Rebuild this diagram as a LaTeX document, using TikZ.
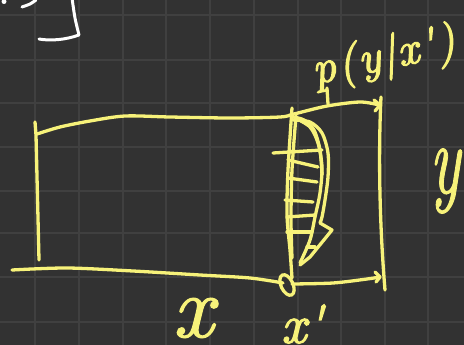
\documentclass[tikz,border=0pt]{standalone}
\usepackage{fontspec}
\newfontfamily\hand{lmroman10-italic.otf}[FakeBold=2.5]
\newfontfamily\handthin{lmroman10-italic.otf}[FakeBold=1.3]
\newfontfamily\handsp{lmroman10-italic.otf}[FakeBold=2.6,LetterSpace=5]
\begin{document}
\begin{tikzpicture}[x=1pt,y=-1pt]
\definecolor{bgc}{RGB}{50,50,50}
\definecolor{gridc}{RGB}{64,64,64}
\definecolor{yel}{RGB}{247,242,122}
\tikzset{
  ink/.style={draw=yel,line width=3.3pt,line cap=round,line join=round},
  chalk/.style={draw=white,line width=3pt,line cap=round,line join=round},
  gridline/.style={draw=gridc,line width=2pt},
  lbl/.style={text=yel,inner sep=0pt,font=\hand}
}
\fill[bgc] (0,0) rectangle (464,345);
\useasboundingbox (0,0) rectangle (464,345);
\foreach \gx in {35,78.5,122.5,166,210,253.5,297.5,341,384.5,428.3}
  \draw[gridline] (\gx,0) -- (\gx,345);
\foreach \gy in {15,60,103.3,147,190.7,233.3,276.7,321.7}
  \draw[gridline] (0,\gy) -- (464,\gy);
% white fragments top-left
\fill[white] (4,1.5) circle (2.5pt);
\draw[chalk] plot[smooth] coordinates {(22,7) (30,4) (36,0)};
\draw[chalk] plot[smooth] coordinates {(72,-2) (75,18) (79,35)} -- (79,35)
  .. controls (65,40) and (50,41) .. (39,39);
% left vertical
\draw[ink] (35,122) -- (36,135) -- (39,260);
% top line with arrow
\draw[ink] plot[smooth] coordinates {(37,134) (60,127) (90,121) (125,116) (170,117) (230,118) (280,117) (294,114) (327,106) (360,102) (379,105)};
\draw[ink] (374,100) -- (380,105) -- (375,111);
% right vertical
\draw[ink] (381,97) .. controls (378,160) and (380,230) .. (385,290);
% bottom line
\draw[ink] plot[smooth] coordinates {(12,270) (67,268) (133,271) (200,275) (250,278) (283,283)};
\draw[ink] plot[smooth] coordinates {(292,284) (333,283) (367,279) (380,277)};
\draw[ink] (375,272) -- (380,277) -- (376,282);
% loop at x'
\draw[ink] (287,285) ellipse [x radius=6, y radius=11, rotate=25];
% x' vertical
\draw[ink] plot[smooth] coordinates {(292,108) (288,170) (287,215) (290,250) (292,278)};
\draw[ink] plot[smooth] coordinates {(296,116) (292,170) (291,220) (292,258)};
% distribution bulge
\draw[ink] plot[smooth] coordinates {(293,120) (310,122) (322,133) (328,153) (328,177) (325,200) (322,217) (320,223)} -- (332,230) -- (310,257) -- (300,265);
\draw[ink] plot[smooth] coordinates {(295,118) (310,127) (318,143) (322,167) (320,193) (315,217) (310,240) (300,263)};
\draw[ink] plot[smooth] coordinates {(293,117) (304,120) (314,130) (320,150) (322,175)};
% hatching
\draw[ink] (273,153) -- (322,150);
\draw[ink] (288,160) -- (318,167);
\draw[ink] (288,178) -- (317,182);
\draw[ink] (285,200) -- (313,202);
\draw[ink] (287,217) -- (315,215);
\draw[ink] (287,232) -- (312,232);
\draw[ink] (307,247) -- (315,247);
% p stem reaching line
\draw[ink] (327,88) -- (328,104);
% labels
\node[lbl,font=\handthin\fontsize{88}{88}\selectfont] (lx) at (193,318) {x};
\node[lbl,font=\hand\fontsize{54}{54}\selectfont] (lxp) at (302,324) {x'};
\node[lbl,font=\handthin\fontsize{100}{100}\selectfont,xscale=0.62,transform shape] (ly) at (445,181) {y};
\node[lbl,font=\handsp\fontsize{46}{46}\selectfont,rotate=12] (lp) at (384,58) {p(y|x')};
\end{tikzpicture}
\end{document}
